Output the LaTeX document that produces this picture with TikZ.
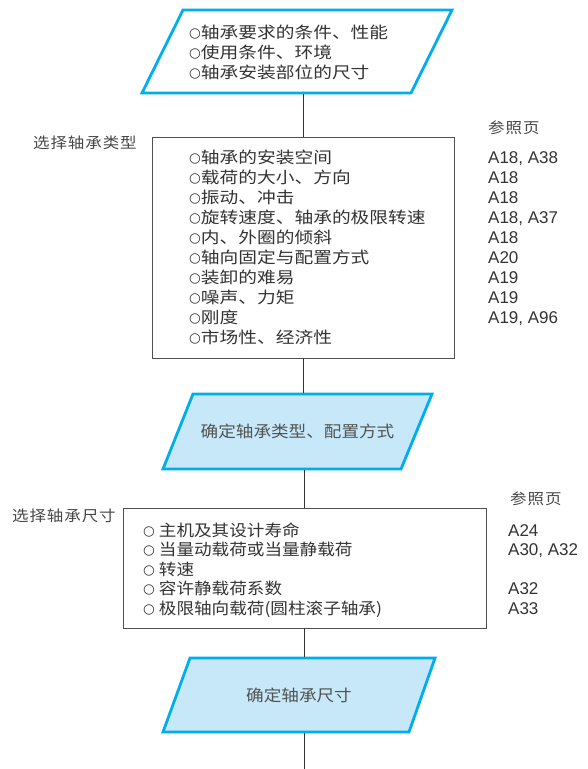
\documentclass[tikz,border=0pt]{standalone}
\usepackage{fontspec}
\newfontfamily\cjk[FakeStretch=1.17]{Noto Sans CJK SC}
\newfontfamily\cjkp[FakeStretch=1.1]{Noto Sans CJK SC}
\newfontfamily\lat{Liberation Sans}
\newfontfamily\sym{DejaVu Sans}
\definecolor{cyanline}{HTML}{00AEEF}
\definecolor{cyanfill}{HTML}{C7E8F8}
\definecolor{txt}{HTML}{333333}
\definecolor{boxline}{HTML}{505050}
\newcommand\bul{\raisebox{1pt}{\sym\fontsize{13.5}{13.5}\selectfont ○}}
\begin{document}
\begin{tikzpicture}[x=1pt,y=-1pt,
  para/.style={draw=cyanline, line width=2.8pt, line join=miter},
  boxst/.style={draw=boxline, line width=0.9pt, fill=white, inner sep=0pt},
  conn/.style={draw=txt, line width=1.4pt},
  item/.style={anchor=base west, inner sep=0pt, text=txt, font=\cjk\fontsize{16}{16}\selectfont},
  itemb/.style={anchor=base west, inner sep=0pt, text=txt, font=\cjkp\fontsize{16}{16}\selectfont},
  ref/.style={anchor=base west, inner sep=0pt, text=txt, font=\lat\fontsize{17}{17}\selectfont},
  lbl/.style={anchor=base west, inner sep=0pt, text=txt!90, font=\cjkp\fontsize{15}{15}\selectfont\addfontfeature{LetterSpace=6}},
  ptext/.style={text=txt!85, inner sep=0pt, font=\cjkp\fontsize{16}{16}\selectfont}]
\useasboundingbox (0,0) rectangle (588,769);
% top parallelogram
\draw[para, fill=white] (183,10) -- (452,10) -- (411,93) -- (142,93) -- cycle;
\foreach \t [count=\i] in {轴承要求的条件、性能, 使用条件、环境, 轴承安装部位的尺寸}
  \node[item] (t\i) at (189,{38+20*(\i-1)}) {\bul\t};
% box 2
\node[boxst, minimum width=302pt, minimum height=221pt] (b2) at (303.5,247.5) {};
\node[lbl] (l2) at (33,148.5) {选择轴承类型};
\node[lbl] (r2) at (488,133) {参照页};
\foreach \t [count=\i] in {轴承的安装空间, 载荷的大小、方向, 振动、冲击, 旋转速度、轴承的极限转速,
  内、外圈的倾斜, 轴向固定与配置方式, 装卸的难易, 噪声、力矩, 刚度, 市场性、经济性}
  \node[item] (a\i) at (189,{163+20*(\i-1)}) {\bul\t};
\foreach \t [count=\i] in {{A18, A38}, A18, A18, {A18, A37}, A18, A20, A19, A19, {A19, A96}}
  \node[ref] (ra\i) at (488,{163+20*(\i-1)}) {\t};
% parallelogram 2
\draw[para, fill=cyanfill] (193,394) -- (432,394) -- (401,469) -- (163,469) -- cycle;
\node[ptext] (p2) at (297.5,431) {确定轴承类型、配置方式};
% box 3
\node[boxst, minimum width=363pt, minimum height=120pt] (b3) at (304.5,568) {};
\node[lbl] (l3) at (12,521.5) {选择轴承尺寸};
\node[lbl] (r3) at (510,504) {参照页};
\foreach \t [count=\i] in {主机及其设计寿命, 当量动载荷或当量静载荷, 转速, 容许静载荷系数, 极限轴向载荷(圆柱滚子轴承)}
  \node[itemb] (c\i) at (143,{536+19.5*(\i-1)}) {\bul\ \t};
\node[ref] (rc1) at (508,536) {A24};
\node[ref] (rc2) at (508,555.5) {A30, A32};
\node[ref] (rc4) at (508,594.5) {A32};
\node[ref] (rc5) at (508,614) {A33};
% parallelogram 3
\draw[para, fill=cyanfill] (190,658) -- (435,658) -- (409,732) -- (163,732) -- cycle;
\node[ptext] (p3) at (299,695) {确定轴承尺寸};
% connector end points on parallelogram edges
\coordinate (p1s) at (303.5,94.4);
\coordinate (p2n) at (303.5,392.6);
\coordinate (p2s) at (304.5,470.4);
\coordinate (p3n) at (304.5,656.6);
\coordinate (p3s) at (304.5,733.4);
\coordinate (end) at (304.5,769);
% connectors
\draw[conn] (p1s) -- (b2.north);
\draw[conn] (b2.south) -- (p2n);
\draw[conn] (p2s) -- (b3.north);
\draw[conn] (b3.south) -- (p3n);
\draw[conn] (p3s) -- (end);
\end{tikzpicture}
\end{document}
